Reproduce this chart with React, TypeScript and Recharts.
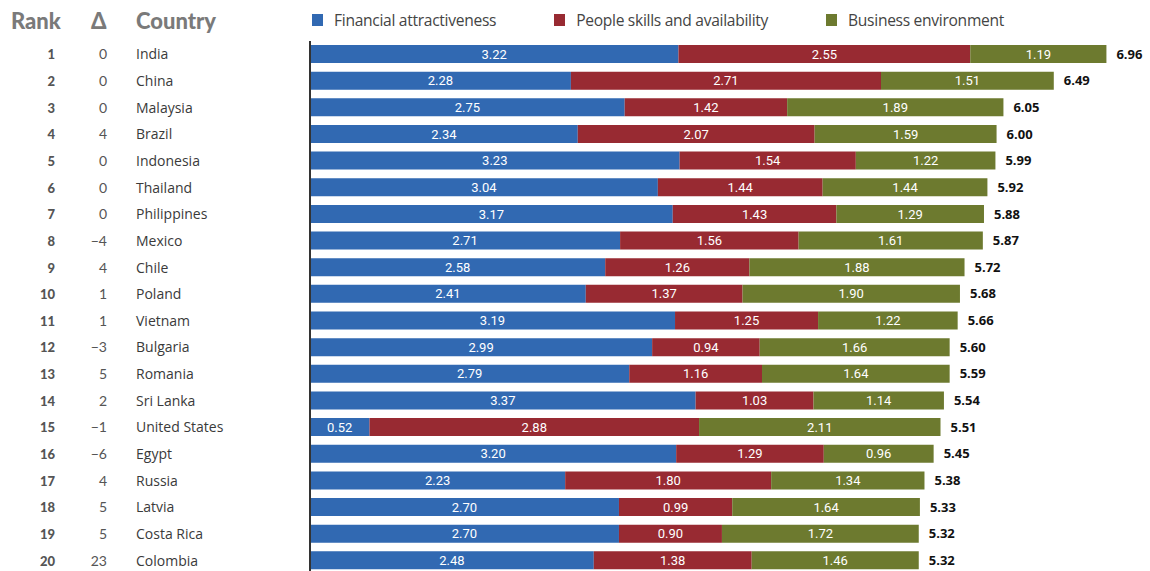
import React from 'react'
import { BarChart, Bar, XAxis, YAxis, LabelList } from 'recharts'

document.body.style.margin = '0'
document.body.style.overflow = 'hidden'

const countries = [
  'India', 'China', 'Malaysia', 'Brazil', 'Indonesia', 'Thailand', 'Philippines', 'Mexico',
  'Chile', 'Poland', 'Vietnam', 'Bulgaria', 'Romania', 'Sri Lanka', 'United States', 'Egypt',
  'Russia', 'Latvia', 'Costa Rica', 'Colombia',
]
const ranks = [1, 2, 3, 4, 5, 6, 7, 8, 9, 10, 11, 12, 13, 14, 15, 16, 17, 18, 19, 20]
const deltas = ['0', '0', '0', '4', '0', '0', '0', '−4', '4', '1', '1', '−3', '5', '2', '−1', '−6', '4', '5', '5', '23']
const financial = [3.22, 2.28, 2.75, 2.34, 3.23, 3.04, 3.17, 2.71, 2.58, 2.41, 3.19, 2.99, 2.79, 3.37, 0.52, 3.2, 2.23, 2.7, 2.7, 2.48]
const people = [2.55, 2.71, 1.42, 2.07, 1.54, 1.44, 1.43, 1.56, 1.26, 1.37, 1.25, 0.94, 1.16, 1.03, 2.88, 1.29, 1.8, 0.99, 0.9, 1.38]
const business = [1.19, 1.51, 1.89, 1.59, 1.22, 1.44, 1.29, 1.61, 1.88, 1.9, 1.22, 1.66, 1.64, 1.14, 2.11, 0.96, 1.34, 1.64, 1.72, 1.46]
const totals = [6.96, 6.49, 6.05, 6.0, 5.99, 5.92, 5.88, 5.87, 5.72, 5.68, 5.66, 5.6, 5.59, 5.54, 5.51, 5.45, 5.38, 5.33, 5.32, 5.32]

const data = countries.map((country, i) => ({
  country,
  rank: ranks[i],
  delta: deltas[i],
  financial: financial[i],
  people: people[i],
  business: business[i],
  total: totals[i],
}))

const BLUE = '#3169b2'
const RED = '#982a32'
const GREEN = '#6d7a2f'

const legendItems = [
  { label: 'Financial attractiveness', color: BLUE },
  { label: 'People skills and availability', color: RED },
  { label: 'Business environment', color: GREEN },
]

const fmt = (v: any) => Number(v).toFixed(2)

function RowTick(props: any) {
  const { y, payload } = props
  const row = data[payload.index]
  return (
    <g>
      <text x={55} y={y} dy={5} textAnchor="end" fontSize={13} fontWeight={900} fill="#555" fontFamily="Lato, sans-serif">
        {row.rank}
      </text>
      <text x={107} y={y} dy={5} textAnchor="end" fontSize={14} fill="#555" fontFamily="Lato, sans-serif">
        {row.delta}
      </text>
      <text x={136} y={y} dy={5} textAnchor="start" fontSize={14} fill="#3a3a3a" fontFamily="'Open Sans', sans-serif">
        {row.country}
      </text>
    </g>
  )
}

const headStyle: React.CSSProperties = {
  position: 'absolute',
  top: 7,
  fontFamily: 'Lato, sans-serif',
  fontWeight: 900,
  fontSize: 22,
  color: '#7a7a7a',
}

export default function App() {
  return (
    <div style={{ position: 'relative', width: 1150, height: 571, overflow: 'hidden', background: '#fff' }}>
      <span style={{ ...headStyle, left: 11 }}>Rank</span>
      <span style={{ ...headStyle, left: 91 }}>Δ</span>
      <span style={{ ...headStyle, left: 136 }}>Country</span>
      <div
        style={{
          position: 'absolute',
          top: 9,
          left: 312,
          display: 'flex',
          gap: 58,
          alignItems: 'center',
          fontFamily: "'Open Sans', sans-serif",
          fontSize: 15.6,
          letterSpacing: -0.3,
          color: '#444',
        }}
      >
        {legendItems.map((it) => (
          <div key={it.label} style={{ display: 'flex', alignItems: 'center' }}>
            <span style={{ width: 11, height: 12, background: it.color, display: 'inline-block', marginRight: 11 }} />
            <span>{it.label}</span>
          </div>
        ))}
      </div>
      <BarChart
        width={1150}
        height={574}
        data={data}
        layout="vertical"
        barSize={18}
        margin={{ top: 41, right: 39, bottom: 0, left: 0 }}
      >
        <XAxis type="number" domain={[0, 7]} hide />
        <YAxis
          type="category"
          dataKey="country"
          width={310}
          tickLine={false}
          axisLine={{ stroke: '#333', strokeWidth: 2 }}
          tick={<RowTick />}
          interval={0}
        />
        <Bar dataKey="financial" stackId="a" fill={BLUE} isAnimationActive={false}>
          <LabelList dataKey="financial" position="center" fill="#fff" fontSize={13} fontFamily="Roboto, sans-serif" formatter={fmt} />
        </Bar>
        <Bar dataKey="people" stackId="a" fill={RED} isAnimationActive={false}>
          <LabelList dataKey="people" position="center" fill="#fff" fontSize={13} fontFamily="Roboto, sans-serif" formatter={fmt} />
        </Bar>
        <Bar dataKey="business" stackId="a" fill={GREEN} isAnimationActive={false}>
          <LabelList dataKey="business" position="center" fill="#fff" fontSize={13} fontFamily="Roboto, sans-serif" formatter={fmt} />
          <LabelList dataKey="total" position="right" offset={10} fill="#111" fontSize={13} fontWeight={700} fontFamily="'Open Sans', sans-serif" formatter={fmt} />
        </Bar>
      </BarChart>
    </div>
  )
}
